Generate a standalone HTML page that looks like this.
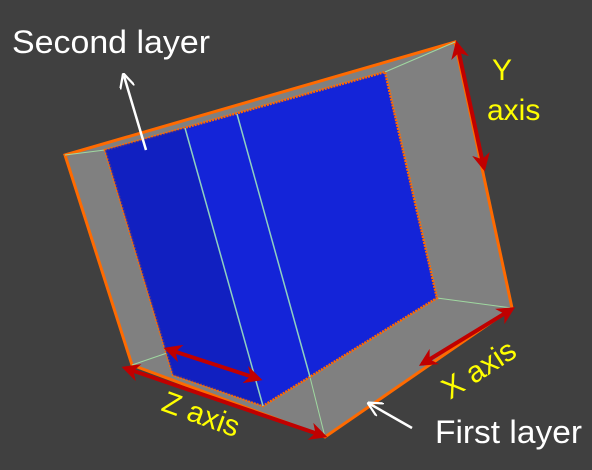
<!DOCTYPE html>
<html><head><meta charset="utf-8"><style>
html,body{margin:0;padding:0;background:#404040;}
svg{display:block}
text{font-family:"Liberation Sans",sans-serif;}
</style></head><body>
<svg width="592" height="470" viewBox="0 0 592 470">
<defs>
<marker id="ar" viewBox="0 0 10 10" refX="8" refY="5" markerWidth="4.5" markerHeight="4.5" orient="auto-start-reverse"><path d="M0,0 L10,5 L0,10 L3,5 z" fill="#c00000"/></marker>
<marker id="aw" viewBox="0 0 10 10" refX="8" refY="5" markerWidth="6" markerHeight="6" orient="auto-start-reverse"><path d="M0,0 L10,5 L0,10" fill="none" stroke="#fff" stroke-width="1.5"/></marker>
</defs>
<rect width="592" height="470" fill="#404040"/>
<polygon points="65,155 455,42 512,308 325,437 132,365" fill="#808080" stroke="#ff6a00" stroke-width="3"/>
<g stroke="#9fd8a0" stroke-width="1" fill="none">
<line x1="65" y1="155" x2="105" y2="150"/>
<line x1="455" y1="42" x2="385" y2="72"/>
<line x1="512" y1="308" x2="437" y2="298"/>
<line x1="132" y1="365" x2="170" y2="352"/>
<line x1="325" y1="437" x2="310" y2="377"/>
</g>
<polygon points="105,150 385,72 437,298 263,406 173,375" fill="#1424d8" stroke="#ff6a00" stroke-width="2.5" stroke-dasharray="2,1"/>
<polygon points="105,150 185,128 262,405 173,375" fill="#1020b8" opacity="0.7"/>
<g stroke="#8fd0c0" stroke-width="1.5">
<line x1="185" y1="128" x2="263" y2="406"/>
<line x1="237" y1="114" x2="310" y2="377"/>
</g>
<g stroke="#c00000" stroke-width="4">
<line x1="125" y1="368" x2="324" y2="436" marker-start="url(#ar)" marker-end="url(#ar)"/>
<line x1="167" y1="349" x2="259" y2="379" marker-start="url(#ar)" marker-end="url(#ar)"/>
<line x1="422" y1="364" x2="512" y2="309" marker-start="url(#ar)" marker-end="url(#ar)"/>
<line x1="457" y1="44" x2="484" y2="168" marker-start="url(#ar)" marker-end="url(#ar)"/>
</g>
<line x1="146" y1="150" x2="124" y2="76" stroke="#fff" stroke-width="2.5" marker-end="url(#aw)"/>
<line x1="412" y1="428" x2="370" y2="404" stroke="#fff" stroke-width="2.5" marker-end="url(#aw)"/>
<text x="12" y="53" fill="#fff" font-size="32" textLength="198" lengthAdjust="spacingAndGlyphs">Second layer</text>
<text x="435" y="443" fill="#fff" font-size="32" textLength="147" lengthAdjust="spacingAndGlyphs">First layer</text>
<text x="492" y="80" fill="#ffff00" font-size="30">Y</text>
<text x="487" y="120" fill="#ffff00" font-size="30">axis</text>
<text x="0" y="0" fill="#ffff00" font-size="30" transform="translate(450,400) rotate(-33)">X axis</text>
<text x="0" y="0" fill="#ffff00" font-size="30" transform="translate(160,410) rotate(20)">Z axis</text>
</svg>
</body></html>
